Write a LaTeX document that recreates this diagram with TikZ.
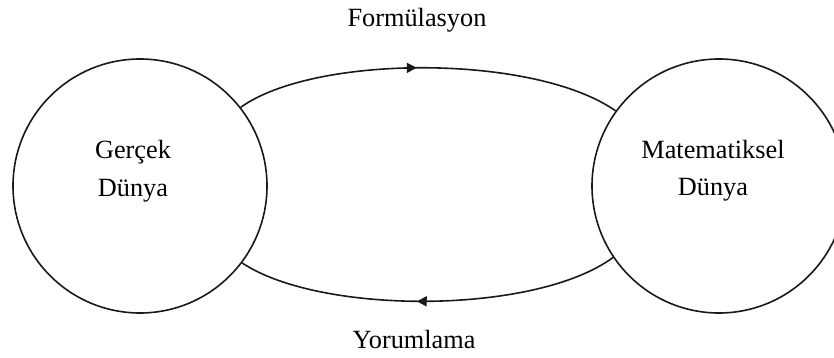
\documentclass[tikz,border=0pt]{standalone}
\usepackage{fontspec}
\setmainfont{Liberation Serif}
\usetikzlibrary{arrows.meta,decorations.markings}
\tikzset{
  world/.style={circle,draw=black!90,line width=1.6pt,minimum size=254pt,inner sep=0pt},
  lbl/.style={font=\fontsize{26.3}{37}\selectfont,align=center,inner sep=0pt,anchor=base},
  flow/.style={line width=1.6pt,draw=black!90,postaction={decorate},
    decoration={markings,mark=at position #1 with {\arrow{Triangle[length=10pt,width=10pt]}}}}
}
\begin{document}
\begin{tikzpicture}[x=1pt,y=-1pt]
\useasboundingbox (0,0) rectangle (834,358);
\node[world] (L) at (140,186) {};
\node[world] (R) at (719,186) {};
\node[lbl] (Lt) at (133,196) {Gerçek\\Dünya};
\node[lbl] (Rt) at (713,195) {Matematiksel\\Dünya};
\node[lbl] (F) at (417,27) {Formülasyon};
\node[lbl] (Y) at (414,348) {Yorumlama};
\draw[flow=0.47] (L.38) .. controls (315,54) and (535,54) .. (R.144);
\draw[flow=0.53] (R.214) .. controls (535,315) and (320,315) .. (L.-37);
\end{tikzpicture}
\end{document}
